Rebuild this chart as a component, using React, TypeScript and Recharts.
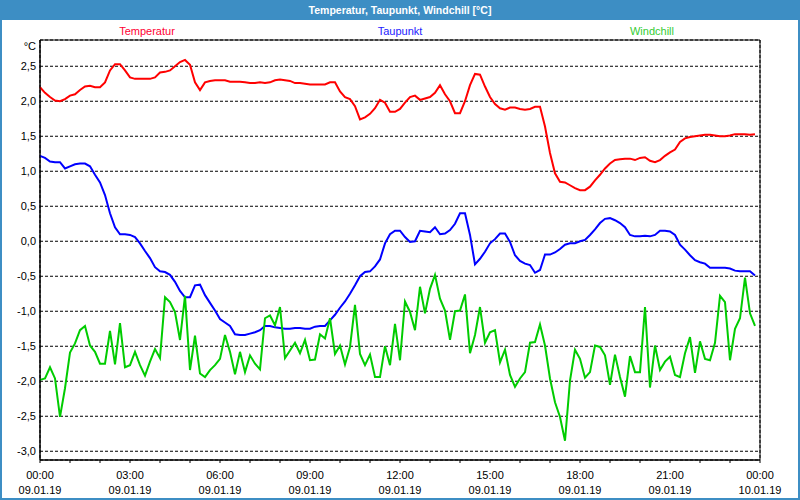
import React from 'react';
import { LineChart, Line, XAxis, YAxis, CartesianGrid, ReferenceArea } from 'recharts';

// values every 10 minutes, 09.01.19 00:00 .. 23:50
const temperatur = [
  2.20, 2.12, 2.06, 2.01, 2.00, 2.03,
  2.08, 2.10, 2.16, 2.21, 2.22, 2.20,
  2.20, 2.27, 2.44, 2.53, 2.53, 2.44,
  2.34, 2.32, 2.32, 2.32, 2.32, 2.34,
  2.41, 2.42, 2.44, 2.50, 2.56, 2.59,
  2.52, 2.27, 2.16, 2.27, 2.29, 2.30,
  2.30, 2.30, 2.28, 2.28, 2.28, 2.27,
  2.26, 2.26, 2.27, 2.26, 2.27, 2.30,
  2.31, 2.30, 2.29, 2.26, 2.26, 2.25,
  2.24, 2.24, 2.24, 2.24, 2.27, 2.27,
  2.14, 2.06, 2.03, 1.93, 1.74, 1.77,
  1.82, 1.90, 2.02, 1.98, 1.85, 1.85,
  1.89, 1.98, 2.06, 2.08, 2.02, 2.04,
  2.06, 2.12, 2.23, 2.10, 2.00, 1.83,
  1.83, 2.00, 2.23, 2.39, 2.38, 2.21,
  2.06, 1.96, 1.90, 1.88, 1.91, 1.91,
  1.89, 1.88, 1.89, 1.92, 1.92, 1.64,
  1.26, 0.97, 0.85, 0.84, 0.80, 0.76,
  0.73, 0.73, 0.78, 0.87, 0.95, 1.04,
  1.11, 1.16, 1.17, 1.18, 1.18, 1.16,
  1.19, 1.20, 1.15, 1.13, 1.16, 1.22,
  1.27, 1.31, 1.42, 1.47, 1.49, 1.50,
  1.51, 1.52, 1.52, 1.51, 1.50, 1.50,
  1.51, 1.53, 1.53, 1.53, 1.52, 1.53,
];

const taupunkt = [
  1.22, 1.19, 1.14, 1.13, 1.13, 1.04,
  1.07, 1.10, 1.11, 1.11, 1.07, 0.95,
  0.84, 0.66, 0.40, 0.20, 0.10, 0.10,
  0.09, 0.06, -0.03, -0.14, -0.24, -0.37,
  -0.43, -0.44, -0.48, -0.58, -0.71, -0.80,
  -0.80, -0.63, -0.62, -0.77, -0.88, -0.99,
  -1.11, -1.16, -1.21, -1.33, -1.34, -1.34,
  -1.32, -1.30, -1.27, -1.21, -1.21, -1.23,
  -1.24, -1.25, -1.25, -1.24, -1.24, -1.25,
  -1.25, -1.22, -1.21, -1.21, -1.13, -1.05,
  -0.95, -0.86, -0.75, -0.63, -0.50, -0.44,
  -0.43, -0.36, -0.26, -0.03, 0.10, 0.15,
  0.15, 0.06, -0.01, 0.00, 0.15, 0.14,
  0.13, 0.20, 0.10, 0.11, 0.16, 0.25,
  0.40, 0.40, 0.09, -0.33, -0.25, -0.15,
  -0.03, 0.03, 0.11, 0.11, -0.01, -0.20,
  -0.28, -0.32, -0.34, -0.45, -0.41, -0.19,
  -0.19, -0.16, -0.11, -0.05, -0.03, -0.03,
  0.00, 0.02, 0.09, 0.17, 0.26, 0.32,
  0.33, 0.30, 0.26, 0.20, 0.09, 0.07,
  0.07, 0.08, 0.07, 0.09, 0.15, 0.15,
  0.14, 0.09, -0.05, -0.12, -0.20, -0.27,
  -0.30, -0.32, -0.38, -0.38, -0.38, -0.38,
  -0.39, -0.42, -0.43, -0.43, -0.43, -0.49,
];

const windchill = [
  -1.98, -1.96, -1.80, -1.96, -2.51, -2.10,
  -1.59, -1.46, -1.27, -1.21, -1.49, -1.58,
  -1.75, -1.75, -1.28, -1.76, -1.17, -1.80,
  -1.77, -1.58, -1.77, -1.92, -1.72, -1.54,
  -1.67, -0.80, -0.87, -1.01, -1.41, -0.78,
  -1.84, -1.35, -1.89, -1.94, -1.84, -1.77,
  -1.68, -1.34, -1.58, -1.90, -1.58, -1.87,
  -1.63, -1.75, -1.83, -1.10, -1.06, -1.20,
  -0.94, -1.67, -1.56, -1.45, -1.60, -1.41,
  -1.70, -1.69, -1.33, -1.39, -1.10, -1.61,
  -1.49, -1.76, -1.51, -0.91, -1.61, -1.77,
  -1.62, -1.94, -1.94, -1.50, -1.77, -1.18,
  -1.70, -0.86, -1.01, -1.27, -0.65, -1.03,
  -0.68, -0.48, -0.82, -0.99, -1.41, -1.00,
  -0.99, -0.76, -1.60, -1.34, -0.94, -1.45,
  -1.30, -1.27, -1.73, -1.55, -1.91, -2.08,
  -1.96, -1.87, -1.45, -1.44, -1.19, -1.49,
  -1.96, -2.30, -2.51, -2.85, -1.99, -1.55,
  -1.68, -1.95, -1.87, -1.49, -1.51, -1.63,
  -2.05, -1.62, -1.94, -2.22, -1.64, -1.87,
  -1.87, -0.94, -2.09, -1.49, -1.84, -1.72,
  -1.65, -1.91, -1.94, -1.60, -1.37, -1.88,
  -1.43, -1.68, -1.70, -1.45, -0.78, -0.87,
  -1.70, -1.25, -1.10, -0.52, -1.03, -1.21,
];

const seriesKeys = ['temperatur', 'taupunkt', 'windchill'];
const seriesNames = ['Temperatur', 'Taupunkt', 'Windchill'];
const seriesColors = ['#ff0000', '#0000ff', '#00cc00'];
const legendColors = ['#ff0033', '#2222ff', '#33cc33'];

const xTickTimes = ['00:00', '03:00', '06:00', '09:00', '12:00', '15:00', '18:00', '21:00', '00:00'];
const xTickDates = ['09.01.19', '09.01.19', '09.01.19', '09.01.19', '09.01.19', '09.01.19', '09.01.19', '09.01.19', '10.01.19'];
const majorTicks = [0, 180, 360, 540, 720, 900, 1080, 1260, 1440];
const hourTicks = [0, 60, 120, 180, 240, 300, 360, 420, 480, 540, 600, 660, 720, 780, 840, 900, 960, 1020, 1080, 1140, 1200, 1260, 1320, 1380, 1440];
const yTicks = [-3, -2.5, -2, -1.5, -1, -0.5, 0, 0.5, 1, 1.5, 2, 2.5];
const yDomain = [-3.125, 2.875];
const xDomain = [0, 1440];

const sampleMinutes = temperatur.map((_, i) => i * 10);
const data = sampleMinutes.map((t, i) => ({
  t,
  temperatur: temperatur[i],
  taupunkt: taupunkt[i],
  windchill: windchill[i],
}));

const FONT = '"Liberation Sans", Arial, sans-serif';
const FRAME = '#3d8ec4';

const TimeTick = (props: any) => {
  const { x, y, payload } = props;
  const i = majorTicks.indexOf(payload.value);
  if (i < 0) return null;
  return (
    <text x={x} y={y} textAnchor="middle" fill="#000" fontSize={11} fontFamily={FONT}>
      <tspan x={x} dy={14}>{xTickTimes[i]}</tspan>
      <tspan x={x} dy={15}>{xTickDates[i]}</tspan>
    </text>
  );
};

export default function App() {
  const legendCenters = [147, 400, 652];
  return (
    <div style={{ position: 'absolute', left: 0, top: 0, width: 800, height: 500, background: '#ffffff', overflow: 'hidden', fontFamily: FONT }}>
      <div style={{ position: 'absolute', left: 0, top: 0 }}>
        <LineChart width={800} height={500} data={data} margin={{ top: 40, right: 40, bottom: 0, left: 0 }}>
          <XAxis xAxisId="grid" type="number" dataKey="t" domain={xDomain} ticks={majorTicks} interval={0}
            height={0} tick={false} tickLine={false} axisLine={false} />
          <XAxis xAxisId="main" type="number" dataKey="t" domain={xDomain} ticks={hourTicks} interval={0}
            height={40} tick={<TimeTick />} tickSize={3} tickMargin={2}
            tickLine={{ stroke: '#000' }} axisLine={{ stroke: '#000' }} />
          <YAxis yAxisId="main" type="number" domain={yDomain} ticks={yTicks} interval={0} width={40}
            tickLine={false} tickSize={4} tickMargin={0} axisLine={{ stroke: '#000' }}
            tick={{ fill: '#000', fontSize: 11, fontFamily: FONT }}
            tickFormatter={(v: number) => v.toFixed(1).replace('.', ',')} />
          <CartesianGrid xAxisId="grid" yAxisId="main" stroke="#000" strokeDasharray="3 2" />
          <ReferenceArea xAxisId="main" yAxisId="main" x1={xDomain[0]} x2={xDomain[1]} y1={yDomain[0]} y2={yDomain[1]}
            fill="none" fillOpacity={0} stroke="#000" strokeWidth={1} strokeOpacity={1} />
          {seriesKeys.map((k, i) => (
            <Line key={k} xAxisId="main" yAxisId="main" type="linear" dataKey={k} name={seriesNames[i]}
              stroke={seriesColors[i]} strokeWidth={2} dot={false} activeDot={false} isAnimationActive={false} />
          ))}
        </LineChart>
      </div>
      <div style={{ position: 'absolute', left: 0, top: 0, width: 800, height: 20, background: FRAME, color: '#fff',
        fontWeight: 'bold', fontSize: 10.5, lineHeight: '20px', textAlign: 'center' }}>
        Temperatur, Taupunkt, Windchill [°C]
      </div>
      {seriesNames.map((n, i) => (
        <div key={n} style={{ position: 'absolute', left: legendCenters[i] - 100, width: 200, top: 24, lineHeight: '14px',
          fontSize: 11, textAlign: 'center', color: legendColors[i] }}>{n}</div>
      ))}
      <div style={{ position: 'absolute', left: 0, width: 36, top: 39, lineHeight: '14px', fontSize: 11, textAlign: 'right', color: '#000' }}>°C</div>
      <div style={{ position: 'absolute', left: 0, top: 0, width: 800, height: 500, border: `2px solid ${FRAME}`, boxSizing: 'border-box', pointerEvents: 'none' }} />
    </div>
  );
}
